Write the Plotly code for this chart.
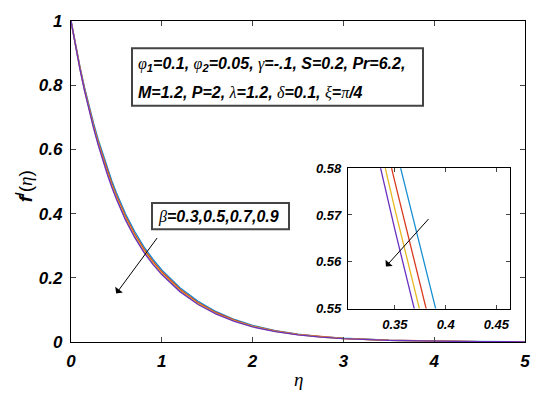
import plotly.graph_objects as go

# ---- data ----
eta = [0, 0.05, 0.1, 0.15, 0.2, 0.25, 0.3, 0.35, 0.4, 0.45, 0.5, 0.6, 0.7, 0.8, 0.9, 1.0,
       1.2, 1.4, 1.6, 1.8, 2.0, 2.25, 2.5, 2.75, 3.0, 3.5, 4.0, 4.5, 5.0]
f_b03 = [1.0, 0.9249, 0.8556, 0.7918, 0.7340, 0.6801, 0.6304, 0.5849, 0.5414, 0.5017, 0.4649,
         0.3997, 0.3450, 0.2980, 0.2585, 0.2246, 0.1691, 0.1264, 0.0942, 0.0700, 0.0515, 0.0355,
         0.0244, 0.0168, 0.0116, 0.0055, 0.0026, 0.0012, 0.0005]
f_b05 = [1.0, 0.9231, 0.8522, 0.7872, 0.7282, 0.6732, 0.6227, 0.5770, 0.5331, 0.4933, 0.4564,
         0.3913, 0.3370, 0.2907, 0.2518, 0.2185, 0.1641, 0.1224, 0.0911, 0.0677, 0.0496, 0.0342,
         0.0235, 0.0162, 0.0111, 0.0053, 0.0025, 0.0012, 0.0005]
f_b07 = [1.0, 0.9217, 0.8497, 0.7836, 0.7239, 0.6684, 0.6175, 0.5712, 0.5272, 0.4872, 0.4502,
         0.3852, 0.3311, 0.2851, 0.2466, 0.2137, 0.1601, 0.1193, 0.0887, 0.0657, 0.0482, 0.0331,
         0.0228, 0.0157, 0.0108, 0.0051, 0.0025, 0.0011, 0.0005]
f_b09 = [1.0, 0.9208, 0.8480, 0.7813, 0.7210, 0.6649, 0.6135, 0.5668, 0.5226, 0.4824, 0.4453,
         0.3803, 0.3264, 0.2806, 0.2425, 0.2099, 0.1570, 0.1168, 0.0867, 0.0642, 0.0470, 0.0323,
         0.0222, 0.0153, 0.0105, 0.0050, 0.0024, 0.0011, 0.0005]
series = [("β=0.3", f_b03, "#1a8fd0"), ("β=0.5", f_b05, "#d83a1e"),
          ("β=0.7", f_b07, "#e6b820"), ("β=0.9", f_b09, "#6a30c0")]

x_ticks = [0, 1, 2, 3, 4, 5]
y_ticks = [0, 0.2, 0.4, 0.6, 0.8, 1]
y_ticktext = ["0", "0.2", "0.4", "0.6", "0.8", "1"]
ix_ticks = [0.35, 0.4, 0.45]
ix_ticktext = ["0.35", "0.4", "0.45"]
iy_ticks = [0.55, 0.56, 0.57, 0.58]
iy_ticktext = ["0.55", "0.56", "0.57", "0.58"]

FONT = "Liberation Sans"
GREEK = "font-family:Liberation Serif;font-weight:normal"

def g(ch):
    return f'<span style="{GREEK}">{ch}</span>'

# pixel helpers relative to the reference plot area (x 71..525, y 12..342)
def px(xp):
    return (xp - 71) / 454

def py(yp):
    return (342 - yp) / 330

fig = go.Figure()
for name, ys, col in series:
    fig.add_trace(go.Scatter(x=eta, y=ys, mode="lines", name=name,
                             line=dict(color=col, width=1.4),
                             xaxis="x", yaxis="y", showlegend=False))
for name, ys, col in series:
    fig.add_trace(go.Scatter(x=eta, y=ys, mode="lines", name=name,
                             line=dict(color=col, width=1.3),
                             xaxis="x2", yaxis="y2", showlegend=False))

tickf = dict(family=FONT, size=17, color="black", weight="bold", style="italic")
itickf = dict(family=FONT, size=13, color="black", weight="bold", style="italic")

# page body has an 8px margin: figure sized/offset so plot area sits where the reference has it
fig.update_layout(
    width=533, height=394,
    margin=dict(l=63, r=16, t=4, b=60),
    paper_bgcolor="white", plot_bgcolor="white",
    xaxis=dict(domain=[0, 1], range=[0, 5], tickvals=x_ticks, ticks="inside", ticklen=5,
               showline=True, linecolor="black", linewidth=1.2, mirror="ticks",
               showgrid=False, zeroline=False, tickfont=tickf, ticklabelstandoff=3),
    yaxis=dict(domain=[0, 1], range=[0, 1], tickvals=y_ticks, ticktext=y_ticktext,
               ticks="inside", ticklen=5, showline=True, linecolor="black", linewidth=1.2,
               mirror="ticks", showgrid=False, zeroline=False, tickfont=tickf,
               ticklabelstandoff=4),
    xaxis2=dict(domain=[0.610, 0.967], range=[0.3037, 0.4634], anchor="y2",
                tickvals=ix_ticks, ticktext=ix_ticktext, ticks="inside", ticklen=4,
                showline=True, linecolor="black", linewidth=1, mirror="ticks",
                showgrid=False, zeroline=False, tickfont=itickf, ticklabelstandoff=4),
    yaxis2=dict(domain=[0.104, 0.5415], range=[0.55, 0.58], anchor="x2",
                tickvals=iy_ticks, ticktext=iy_ticktext, ticks="inside",
                ticklen=4, showline=True, linecolor="black", linewidth=1, mirror="ticks",
                showgrid=False, zeroline=False, tickfont=itickf, ticklabelstandoff=3),
)

annf = dict(family=FONT, size=16, color="black", weight="bold", style="italic")

# parameter box
fig.add_shape(type="rect", xref="paper", yref="paper", x0=px(132), x1=px(423), y0=py(99), y1=py(40),
              line=dict(color="#444444", width=2), fillcolor="white", layer="above")
line1 = f"{g('φ')}<sub>1</sub>=0.1, {g('φ')}<sub>2</sub>=0.05, {g('γ')}=-.1, S=0.2, Pr=6.2,"
line2 = f"M=1.2, P=2, {g('λ')}=1.2, {g('δ')}=0.1, {g('ξ')}={g('π')}/4"
fig.add_annotation(xref="paper", yref="paper", x=px(136), y=py(57), xanchor="left", yanchor="middle",
                   text=line1, showarrow=False, align="left", font=annf)
fig.add_annotation(xref="paper", yref="paper", x=px(136), y=py(85), xanchor="left", yanchor="middle",
                   text=line2, showarrow=False, align="left", font=annf)

# beta box
fig.add_shape(type="rect", xref="paper", yref="paper", x0=px(152), x1=px(289), y0=py(226), y1=py(199),
              line=dict(color="#444444", width=2), fillcolor="white", layer="above")
fig.add_annotation(xref="paper", yref="paper", x=px(156), y=py(213), xanchor="left", yanchor="middle",
                   text=f"{g('β')}=0.3,0.5,0.7,0.9", showarrow=False, align="left", font=annf)

# arrows
fig.add_annotation(xref="x", yref="y", x=0.498, y=0.151, ax=42, ay=-57, text="",
                   showarrow=True, arrowhead=1, arrowsize=1.6, arrowwidth=1, arrowcolor="black")
fig.add_annotation(xref="x2", yref="y2", x=0.3411, y=0.5590, ax=44, ay=-49, text="",
                   showarrow=True, arrowhead=1, arrowsize=1.6, arrowwidth=1, arrowcolor="black")

# axis titles
fig.add_annotation(xref="paper", yref="paper", x=px(298), y=py(381),
                   xanchor="center", yanchor="middle", showarrow=False,
                   text=f'<span style="{GREEK};font-style:italic">η</span>',
                   font=dict(family=FONT, size=19, color="black"))
fig.add_annotation(xref="paper", yref="paper", x=px(24), y=py(182),
                   xanchor="center", yanchor="middle", showarrow=False, textangle=-90,
                   text=f'<b><i>f</i></b><sup><b>/</b></sup>(<span style="{GREEK};font-style:italic">η</span>)',
                   font=dict(family=FONT, size=19, color="black"))

fig.write_html("out.html")
